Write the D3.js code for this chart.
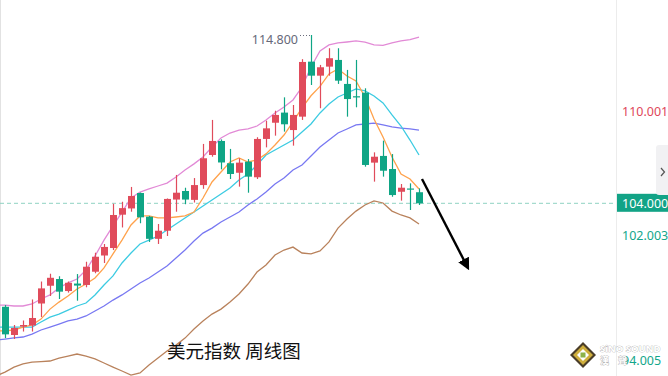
<!DOCTYPE html>
<html>
<head>
<meta charset="utf-8">
<script src="https://cdn.jsdelivr.net/npm/d3@7"></script>
<style>
  html, body { margin: 0; padding: 0; background: #fff; }
  svg { display: block; font-family: "Noto Sans", Roboto, sans-serif; }
</style>
</head>
<body>
<div id="chart"></div>
<script>
// weekly candles, index 0 .. 46
var opens  = [97.36,95.55,96.09,96.16,97.57,98.71,99.14,98.37,98.85,98.76,99.61,100.65,101.13,103.27,103.67,104.66,103.14,101.72,102.24,104.24,104.79,104.22,105.17,107.10,108.00,106.57,105.96,106.67,105.67,108.13,109.17,109.82,108.70,109.56,113.09,112.19,112.77,113.20,111.66,110.87,111.10,106.61,107.04,106.20,104.74,104.95,104.71];
var highs  = [97.47,96.19,96.48,97.83,98.98,99.48,99.32,98.98,99.46,100.25,100.83,101.39,103.97,104.10,105.05,104.69,103.19,102.67,104.31,105.82,105.00,105.62,107.81,109.35,108.10,107.49,106.89,106.84,108.24,109.30,109.94,110.80,110.31,113.25,114.80,112.88,113.95,113.95,112.56,113.20,111.38,107.27,108.02,107.16,105.24,105.28,104.96];
var lows   = [95.35,95.29,95.77,95.77,96.70,98.05,97.86,98.27,97.75,98.61,99.51,100.17,101.00,102.45,103.46,102.72,101.52,101.39,101.90,103.46,103.94,104.05,104.93,106.99,106.18,105.56,105.07,104.68,105.56,107.59,108.34,108.60,107.70,109.35,111.59,110.10,112.19,111.66,109.56,110.16,106.35,105.39,105.71,104.42,104.17,103.57,103.89];
var closes = [95.59,96.00,96.19,96.64,98.54,99.22,98.33,98.90,98.72,99.93,100.57,101.20,103.25,103.69,104.47,103.10,101.72,102.24,104.28,104.68,104.24,105.17,106.89,108.00,106.62,105.88,106.61,105.71,108.13,108.81,109.67,109.07,109.67,113.07,112.19,112.73,113.31,111.87,110.69,110.81,106.46,106.99,106.09,104.53,105.00,104.89,104.00];

// indicator lines, index -1 .. 46 (first point is the week before the first visible candle)
var ma5 = [95.81,95.81,95.87,96.06,96.19,96.57,97.21,97.66,98.05,98.50,98.82,99.21,99.85,100.75,101.64,102.61,103.19,103.19,103.06,103.06,103.12,103.19,103.44,104.34,105.37,106.01,106.65,106.91,106.65,106.78,107.17,107.74,108.38,109.22,110.12,110.90,111.50,112.30,112.62,112.17,111.85,110.82,109.41,108.26,106.97,105.88,105.56,104.92];
var ma10 = [96.06,96.06,96.06,96.06,96.06,96.38,96.70,96.89,97.15,97.41,97.60,98.12,98.76,99.34,100.17,100.81,101.39,101.64,101.90,102.29,102.67,103.06,103.44,103.83,104.21,104.60,104.98,105.50,105.88,106.46,107.10,107.42,107.74,108.06,108.57,109.09,109.80,110.37,110.82,111.08,111.34,111.21,110.89,110.44,109.67,108.96,108.06,107.10];
var ma20 = [95.23,95.29,95.36,95.42,95.61,95.87,96.06,96.25,96.45,96.57,96.77,97.09,97.41,97.79,98.12,98.50,98.89,99.21,99.59,99.98,100.49,101.00,101.58,102.09,102.41,102.80,103.12,103.44,103.89,104.28,104.72,105.24,105.62,106.14,106.46,107.04,107.61,108.06,108.51,108.77,109.03,109.09,109.15,109.03,108.90,108.83,108.77,108.70];
var bollUpper = [97.47,97.47,97.41,97.41,97.54,97.86,98.12,98.57,98.89,99.14,99.72,100.62,101.64,102.55,103.44,104.34,104.72,104.92,105.11,105.30,105.69,106.14,106.53,106.97,107.61,108.19,108.51,108.70,108.77,108.96,109.35,109.80,110.18,110.63,111.46,112.75,113.78,114.16,114.29,114.35,114.42,114.35,114.16,114.13,114.29,114.42,114.51,114.67];
var bollLower = [92.92,93.17,93.49,93.69,93.81,93.84,93.88,94.07,94.20,94.33,94.20,94.01,93.75,93.49,93.24,92.98,93.11,93.62,94.07,94.52,94.90,95.35,95.93,96.44,96.89,97.21,97.66,98.18,98.82,99.59,100.04,100.68,101.00,101.19,100.81,100.75,100.94,101.52,102.41,102.99,103.50,103.89,104.15,104.02,103.50,103.25,103.06,102.67];

var axisTicks = [110.001, 102.003, 94.005];
var lastPrice = 104.000;
var maxHigh = 114.800;
var title = "美元指数 周线图";

var width = 668, height = 376;
var plotRight = 617;

var svg = d3.select("#chart").append("svg")
    .attr("width", width)
    .attr("height", height);

var x = d3.scaleLinear()
    .domain([0, closes.length - 1])
    .range([5, 419]);

var y = d3.scaleLinear()
    .domain([104, 114.8])
    .range([203.3, 35]);

var up = "#e04b5b", down = "#0fa585";

svg.append("clipPath").attr("id", "plot")
  .append("rect").attr("x", 0).attr("y", 0).attr("width", plotRight).attr("height", height);

// left edge
svg.append("line")
    .attr("x1", 0.5).attr("x2", 0.5).attr("y1", 0).attr("y2", height)
    .style("stroke", "#e2e2e2");

var plot = svg.append("g").attr("clip-path", "url(#plot)");

// last price dashed line
plot.append("line")
    .attr("x1", 0).attr("x2", plotRight)
    .attr("y1", y(lastPrice)).attr("y2", y(lastPrice))
    .style("stroke", "#8fd3c2")
    .style("stroke-dasharray", "4,3");

// indicator lines
var lines = [
  {data: bollLower, color: "#b9825c"},
  {data: ma20, color: "#7878f2"},
  {data: ma10, color: "#3ccbe2"},
  {data: bollUpper, color: "#e28ad6"},
  {data: ma5, color: "#ffa24c"}
];

var lineGen = d3.line()
    .x(function(d, i){ return x(i - 1); })
    .y(function(d){ return y(d); });

plot.selectAll(".ind")
    .data(lines)
    .enter().append("path")
    .attr("d", function(d){ return lineGen(d.data); })
    .style("fill", "none")
    .style("stroke", function(d){ return d.color; })
    .style("stroke-width", 1.3);

// candles
var candles = d3.range(closes.length).map(function(i){
  return {i: i, o: opens[i], h: highs[i], l: lows[i], c: closes[i]};
});

var cg = plot.append("g").selectAll("g")
    .data(candles)
    .enter().append("g");

cg.append("line")
    .attr("x1", function(d){ return Math.round(x(d.i)) + 0.5; })
    .attr("x2", function(d){ return Math.round(x(d.i)) + 0.5; })
    .attr("y1", function(d){ return y(d.h); })
    .attr("y2", function(d){ return y(d.l); })
    .style("stroke", function(d){ return d.c >= d.o ? up : down; })
    .style("stroke-width", 1.2);

cg.append("rect")
    .attr("x", function(d){ return Math.round(x(d.i)) - 3; })
    .attr("width", 7)
    .attr("y", function(d){ return y(Math.max(d.o, d.c)); })
    .attr("height", function(d){ return Math.max(1.2, Math.abs(y(d.o) - y(d.c))); })
    .style("fill", function(d){ return d.c >= d.o ? up : down; });

// max label with dotted leader
var hiIdx = highs.indexOf(maxHigh);
plot.append("line")
    .attr("x1", 300).attr("x2", x(hiIdx))
    .attr("y1", y(maxHigh) + 0.5).attr("y2", y(maxHigh) + 0.5)
    .style("stroke", "#6b6d7c")
    .style("stroke-dasharray", "1,2");
plot.append("text")
    .attr("x", 298).attr("y", y(maxHigh) + 8.5)
    .attr("text-anchor", "end")
    .style("font-size", "12.5px")
    .style("fill", "#666979")
    .text(maxHigh.toFixed(3));

// arrow
svg.append("defs").append("marker")
    .attr("id", "head").attr("viewBox", "0 0 10 10")
    .attr("refX", 8).attr("refY", 5)
    .attr("markerWidth", 5).attr("markerHeight", 5)
    .attr("orient", "auto")
  .append("path").attr("d", "M0,0L10,5L0,10z").style("fill", "#000");
svg.append("line")
    .attr("x1", 422).attr("y1", 179)
    .attr("x2", 468).attr("y2", 268)
    .style("stroke", "#000")
    .style("stroke-width", 2.4)
    .attr("marker-end", "url(#head)");

// title
svg.append("text")
    .attr("x", 167).attr("y", 358)
    .style("font-family", "'Noto Sans CJK SC', sans-serif")
    .style("font-size", "18.5px")
    .style("fill", "#111")
    .text(title);

// right axis
svg.append("line")
    .attr("x1", plotRight - 0.5).attr("x2", plotRight - 0.5)
    .attr("y1", 0).attr("y2", height)
    .style("stroke", "#ececec");

var axis = svg.append("g")
    .attr("transform", "translate(" + plotRight + ",1.5)")
    .call(d3.axisRight(y).tickValues(axisTicks).tickSize(0).tickPadding(5)
      .tickFormat(function(d){ return d.toFixed(3); }));
axis.select(".domain").remove();
axis.selectAll("text")
    .style("font-family", "'Noto Sans', sans-serif")
    .style("font-size", "12.5px")
    .style("fill", function(d){ return d > lastPrice ? "#e0475a" : "#13a68a"; });

svg.append("rect")
    .attr("x", plotRight).attr("y", y(lastPrice) - 9.5)
    .attr("width", width - plotRight).attr("height", 18)
    .style("fill", "#12a386");
svg.append("text")
    .attr("x", plotRight + 5).attr("y", y(lastPrice) + 4.5)
    .style("font-size", "12.5px")
    .style("fill", "#fff")
    .text(lastPrice.toFixed(3));

// side tab
svg.append("rect")
    .attr("x", 656).attr("y", 145).attr("width", 16).attr("height", 50).attr("rx", 3)
    .style("fill", "#f1f1f3");
svg.append("path")
    .attr("d", "M661,168L664.5,172L661,176")
    .style("fill", "none").style("stroke", "#555").style("stroke-width", 1.2);

// watermark (sits over the bottom axis label, as in the source)
var wm = svg.append("g").attr("transform", "translate(583,355)");
wm.append("path").attr("d", "M0,-13L13,0L0,13L-13,0Z").style("fill", "#4a3d28");
wm.append("path").attr("d", "M0,-10L10,0L0,10L-10,0Z").style("fill", "#cfae3c");
wm.append("path").attr("d", "M0,-6L6,0L0,6L-6,0Z").style("fill", "#fff");
wm.append("rect").attr("x", -2.5).attr("y", -2.5).attr("width", 5).attr("height", 5).style("fill", "#8cb24a");
svg.append("text")
    .attr("x", 600).attr("y", 352)
    .style("font-size", "9.5px").style("font-weight", "bold")
    .style("fill", "#fff").style("stroke", "#aaa").style("stroke-width", 0.6)
    .style("paint-order", "stroke")
    .text("SiNO SOUND");
svg.append("text")
    .attr("x", 600).attr("y", 364)
    .style("font-family", "'Noto Sans CJK TC', sans-serif")
    .style("font-size", "9px").style("font-weight", "bold")
    .style("fill", "#fff").style("stroke", "#aaa").style("stroke-width", 0.6)
    .style("paint-order", "stroke")
    .text("漢　聲");
</script>
</body>
</html>
